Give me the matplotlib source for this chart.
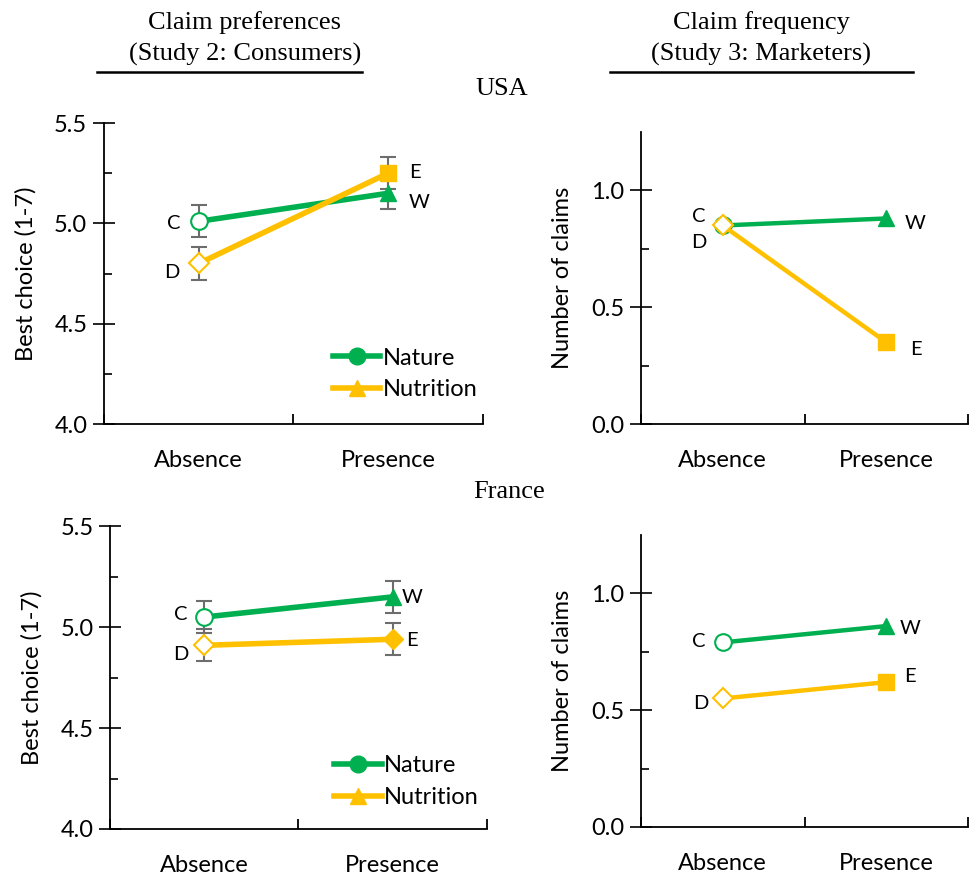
import numpy as np
import matplotlib
matplotlib.use('Agg')
import matplotlib.pyplot as plt
from matplotlib.lines import Line2D

plt.rcParams['font.family'] = ['Lato', 'DejaVu Sans']

# data
categories = ['Absence', 'Presence']
usa_pref_nature = [5.01, 5.15]
usa_pref_nutrition = [4.80, 5.25]
usa_pref_nature_err = [0.08, 0.08]
usa_pref_nutrition_err = [0.08, 0.08]
fr_pref_nature = [5.05, 5.15]
fr_pref_nutrition = [4.91, 4.94]
fr_pref_nature_err = [0.08, 0.08]
fr_pref_nutrition_err = [0.08, 0.08]
usa_freq_nature = [0.85, 0.88]
usa_freq_nutrition = [0.85, 0.35]
fr_freq_nature = [0.79, 0.86]
fr_freq_nutrition = [0.55, 0.62]
point_labels = ['C', 'W', 'D', 'E']

GREEN = '#00B050'
YELLOW = '#FFC000'
GREY = '#6d6d6d'
FS = 17

fig = plt.figure(figsize=(9.69, 8.75), dpi=100)

x = np.array([0.5, 1.5])


def setup(ax, ylim, major, minor):
    ax.set_xlim(0, 2)
    ax.set_ylim(*ylim)
    ax.spines['top'].set_visible(False)
    ax.spines['right'].set_visible(False)
    for s in ['left', 'bottom']:
        ax.spines[s].set_linewidth(1.3)
    ax.set_xticks([0, 1, 2])
    ax.set_xticklabels([])
    ax.set_xticks(x, minor=True)
    ax.set_xticklabels(categories, minor=True, fontsize=FS)
    ax.tick_params(axis='x', which='major', direction='in', length=7, width=1.3)
    ax.tick_params(axis='x', which='minor', length=0, pad=19)
    ax.set_yticks(major)
    ax.set_yticks(minor, minor=True)
    ax.yaxis.set_major_formatter(matplotlib.ticker.FormatStrFormatter('%.1f'))
    ax.tick_params(axis='y', which='major', direction='inout', length=16, width=1.2,
                   labelsize=FS, pad=4)
    ax.tick_params(axis='y', which='minor', direction='in', length=6, width=1.2)


def panel(ax, nature, nutrition, nat_err, nut_err, nut_marker, lw, offsets):
    if nat_err is not None:
        ax.errorbar(x, nature, yerr=nat_err, fmt='none', ecolor=GREY, elinewidth=1.5,
                    capsize=6, capthick=1.5, zorder=1)
        ax.errorbar(x, nutrition, yerr=nut_err, fmt='none', ecolor=GREY, elinewidth=1.5,
                    capsize=6, capthick=1.5, zorder=1)
    ax.plot(x, nature, color=GREEN, lw=lw, zorder=2)
    ax.plot(x[0], nature[0], 'o', ms=12, mfc='white', mec=GREEN, mew=1.5, zorder=3)
    ax.plot(x[1], nature[1], '^', ms=12, color=GREEN, zorder=3)
    ax.plot(x, nutrition, color=YELLOW, lw=lw, zorder=4)
    ax.plot(x[0], nutrition[0], 'D', ms=10, mfc='white', mec=YELLOW, mew=1.5, zorder=5)
    ax.plot(x[1], nutrition[1], nut_marker, ms=12 if nut_marker == 's' else 10,
            color=YELLOW, zorder=5)
    pts = [(x[0], nature[0]), (x[1], nature[1]), (x[0], nutrition[0]), (x[1], nutrition[1])]
    for lab, p, off in zip(point_labels, pts, offsets):
        ax.annotate(lab, p, xytext=off, textcoords='offset points',
                    ha='center', va='center', fontsize=14.5)


def legend(ax, anchor):
    h = [Line2D([], [], color=GREEN, lw=4, marker='o', ms=12),
         Line2D([], [], color=YELLOW, lw=4, marker='^', ms=12)]
    ax.legend(h, ['Nature', 'Nutrition'], loc='upper left', bbox_to_anchor=anchor,
              frameon=False, fontsize=FS, handlelength=2.0, handletextpad=0.1,
              labelspacing=0.45, borderaxespad=0)


# top left
ax1 = fig.add_axes([0.1073, 0.5154, 0.391, 0.344])
setup(ax1, (4.0, 5.5), [4.0, 4.5, 5.0, 5.5], [4.25, 4.75, 5.25])
panel(ax1, usa_pref_nature, usa_pref_nutrition, usa_pref_nature_err, usa_pref_nutrition_err,
      's', 4.0, [(-18, -1.5), (22, -7), (-19, -6.5), (19, 0.5)])
legend(ax1, (0.58, 0.285))
ax1.set_ylabel('Best choice (1-7)', fontsize=FS, labelpad=13)

# top right
ax2 = fig.add_axes([0.6615, 0.5154, 0.3375, 0.3337])
setup(ax2, (0.0, 1.25), [0.0, 0.5, 1.0], [0.25, 0.75])
panel(ax2, usa_freq_nature, usa_freq_nutrition, None, None,
      's', 3.2, [(-17, 6.5), (21, -3.6), (-17, -12), (21, -5)])
ax2.set_ylabel('Number of claims', fontsize=FS, labelpad=13)

# bottom left
ax3 = fig.add_axes([0.1135, 0.0526, 0.389, 0.346])
setup(ax3, (4.0, 5.5), [4.0, 4.5, 5.0, 5.5], [4.25, 4.75, 5.25])
panel(ax3, fr_pref_nature, fr_pref_nutrition, fr_pref_nature_err, fr_pref_nutrition_err,
      'D', 4.0, [(-17, 1.5), (14, -0.7), (-17, -6.5), (14, -0.7)])
legend(ax3, (0.57, 0.275))
ax3.set_ylabel('Best choice (1-7)', fontsize=FS, labelpad=13)

# bottom right
ax4 = fig.add_axes([0.6615, 0.0549, 0.3375, 0.3337])
setup(ax4, (0.0, 1.25), [0.0, 0.5, 1.0], [0.25, 0.75])
panel(ax4, fr_freq_nature, fr_freq_nutrition, None, None,
      's', 3.2, [(-17, 0.7), (17, -1.5), (-16, -3.6), (17, 4.3)])
ax4.set_ylabel('Number of claims', fontsize=FS, labelpad=13)

# headers
serif = ['Liberation Serif', 'DejaVu Serif']
HS = 19
fig.text(245 / 969, 1 - 23 / 875, 'Claim preferences', ha='center', va='center',
         fontsize=HS, family=serif)
fig.text(245 / 969, 1 - 54 / 875, '(Study 2: Consumers)', ha='center', va='center',
         fontsize=HS, family=serif)
fig.text(761 / 969, 1 - 23 / 875, 'Claim frequency', ha='center', va='center',
         fontsize=HS, family=serif)
fig.text(761 / 969, 1 - 54 / 875, '(Study 3: Marketers)', ha='center', va='center',
         fontsize=HS, family=serif)
fig.add_artist(Line2D([97 / 969, 362 / 969], [1 - 72 / 875] * 2, color='black', lw=1.8))
fig.add_artist(Line2D([610 / 969, 913 / 969], [1 - 72 / 875] * 2, color='black', lw=1.8))
fig.text(502 / 969, 1 - 89 / 875, 'USA', ha='center', va='center', fontsize=HS, family=serif)
fig.text(509 / 969, 1 - 492 / 875, 'France', ha='center', va='center', fontsize=HS, family=serif)

fig.savefig('out.png', dpi=100)
